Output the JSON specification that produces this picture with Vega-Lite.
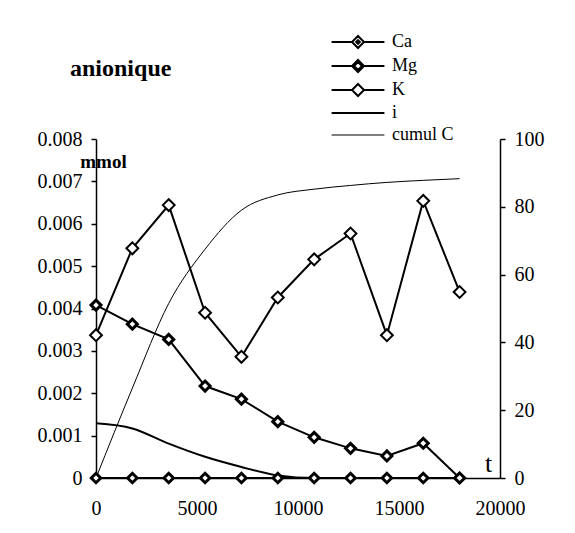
{
  "$schema": "https://vega.github.io/schema/vega-lite/v6.json",
  "width": 404,
  "height": 339,
  "autosize": {"type": "none"},
  "padding": {"left": 96, "top": 139, "right": 75, "bottom": 55},
  "background": "white",
  "title": {
    "text": "anionique",
    "anchor": "start",
    "frame": "group",
    "dx": -26,
    "offset": 0,
    "dy": 67,
    "baseline": "alphabetic",
    "font": "Liberation Serif",
    "fontSize": 24,
    "fontWeight": "bold",
    "color": "black"
  },
  "config": {
    "view": {"stroke": null},
    "axis": {
      "grid": false,
      "labelFlush": false,
      "labelFont": "Liberation Serif",
      "labelFontSize": 20,
      "labelColor": "black",
      "titleFont": "Liberation Serif",
      "titleColor": "black",
      "domainColor": "black",
      "domainWidth": 1.5,
      "tickColor": "black",
      "tickWidth": 1.5
    }
  },
  "datasets": {
    "ions": [
      {"t": 0, "series": "Ca", "v": 0},
      {"t": 1800, "series": "Ca", "v": 0},
      {"t": 3600, "series": "Ca", "v": 0},
      {"t": 5400, "series": "Ca", "v": 0},
      {"t": 7200, "series": "Ca", "v": 0},
      {"t": 9000, "series": "Ca", "v": 0},
      {"t": 10800, "series": "Ca", "v": 0},
      {"t": 12600, "series": "Ca", "v": 0},
      {"t": 14400, "series": "Ca", "v": 0},
      {"t": 16200, "series": "Ca", "v": 0},
      {"t": 18000, "series": "Ca", "v": 0},
      {"t": 0, "series": "Mg", "v": 0.00408},
      {"t": 1800, "series": "Mg", "v": 0.00363},
      {"t": 3600, "series": "Mg", "v": 0.00327},
      {"t": 5400, "series": "Mg", "v": 0.00217},
      {"t": 7200, "series": "Mg", "v": 0.00186},
      {"t": 9000, "series": "Mg", "v": 0.00133},
      {"t": 10800, "series": "Mg", "v": 0.00096},
      {"t": 12600, "series": "Mg", "v": 0.0007},
      {"t": 14400, "series": "Mg", "v": 0.00052},
      {"t": 16200, "series": "Mg", "v": 0.00082},
      {"t": 18000, "series": "Mg", "v": 0},
      {"t": 0, "series": "K", "v": 0.00337},
      {"t": 1800, "series": "K", "v": 0.00542},
      {"t": 3600, "series": "K", "v": 0.00644},
      {"t": 5400, "series": "K", "v": 0.0039},
      {"t": 7200, "series": "K", "v": 0.00286},
      {"t": 9000, "series": "K", "v": 0.00426},
      {"t": 10800, "series": "K", "v": 0.00516},
      {"t": 12600, "series": "K", "v": 0.00577},
      {"t": 14400, "series": "K", "v": 0.00337},
      {"t": 16200, "series": "K", "v": 0.00654},
      {"t": 18000, "series": "K", "v": 0.00439}
    ],
    "i": [
      {"t": 0, "v": 0.00129},
      {"t": 1800, "v": 0.00117},
      {"t": 3600, "v": 0.00081},
      {"t": 5400, "v": 0.0005},
      {"t": 7200, "v": 0.00026},
      {"t": 9000, "v": 0.00006},
      {"t": 10800, "v": 0},
      {"t": 12600, "v": 0},
      {"t": 14400, "v": 0},
      {"t": 16200, "v": 0},
      {"t": 18000, "v": 0}
    ],
    "cumul": [
      {"t": 0, "c": 0},
      {"t": 1800, "c": 26.5},
      {"t": 3600, "c": 51.5},
      {"t": 5400, "c": 67.5},
      {"t": 7200, "c": 79},
      {"t": 9000, "c": 83.5},
      {"t": 10800, "c": 85.2},
      {"t": 12600, "c": 86.3},
      {"t": 14400, "c": 87.2},
      {"t": 16200, "c": 87.8},
      {"t": 18000, "c": 88.3}
    ]
  },
  "encoding": {
    "x": {
      "field": "t",
      "type": "quantitative",
      "scale": {"domain": [0, 20000], "nice": false, "zero": true},
      "axis": {
        "values": [0, 5000, 10000, 15000, 20000],
        "format": "d",
        "ticks": false,
        "tickSize": 0,
        "labelPadding": 20,
        "title": "t",
        "titleAngle": 0,
        "titleX": 392,
        "titleY": -7,
        "titleAlign": "center",
        "titleBaseline": "alphabetic",
        "titleFontSize": 26,
        "titleFontWeight": "normal"
      }
    }
  },
  "layer": [
    {
      "data": {"name": "cumul"},
      "mark": {"type": "line", "interpolate": "monotone", "color": "black", "strokeWidth": 1},
      "encoding": {
        "y": {
          "field": "c",
          "type": "quantitative",
          "scale": {"domain": [0, 100], "nice": false},
          "axis": {
            "orient": "right",
            "values": [0, 20, 40, 60, 80, 100],
            "tickSize": 5,
            "labelPadding": 9,
            "title": null
          }
        }
      }
    },
    {
      "encoding": {
        "y": {
          "field": "v",
          "type": "quantitative",
          "scale": {"domain": [0, 0.008], "nice": false},
          "axis": {
            "orient": "left",
            "values": [0, 0.001, 0.002, 0.003, 0.004, 0.005, 0.006, 0.007, 0.008],
            "labelExpr": "datum.value == 0 ? '0' : format(datum.value, '.3f')",
            "tickSize": 5,
            "labelPadding": 9,
            "title": "mmol",
            "titleAngle": 0,
            "titleX": 7,
            "titleY": 28,
            "titleAlign": "center",
            "titleBaseline": "alphabetic",
            "titleFontSize": 19,
            "titleFontWeight": "bold"
          }
        }
      },
      "layer": [
        {
          "data": {"name": "i"},
          "mark": {"type": "line", "interpolate": "monotone", "color": "black", "strokeWidth": 2}
        },
        {
          "data": {"name": "ions"},
          "mark": {"type": "line", "color": "black", "strokeWidth": 2},
          "encoding": {"detail": {"field": "series", "type": "nominal"}}
        },
        {
          "data": {"name": "ions"},
          "transform": [{"filter": {"field": "series", "equal": "Ca"}}],
          "mark": {"type": "point", "shape": "diamond", "filled": true, "fill": "white", "stroke": "black", "strokeWidth": 3, "size": 90, "opacity": 1}
        },
        {
          "data": {"name": "ions"},
          "transform": [{"filter": {"field": "series", "equal": "Mg"}}],
          "mark": {"type": "point", "shape": "diamond", "filled": true, "fill": "white", "stroke": "black", "strokeWidth": 3, "size": 100, "opacity": 1}
        },
        {
          "data": {"name": "ions"},
          "transform": [{"filter": {"field": "series", "equal": "K"}}],
          "mark": {"type": "point", "shape": "diamond", "filled": true, "fill": "white", "stroke": "black", "strokeWidth": 2, "size": 140, "opacity": 1}
        },
        {
          "data": {"name": "ions"},
          "mark": {"type": "point", "filled": false, "stroke": "black", "strokeOpacity": 0, "opacity": 1},
          "encoding": {
            "shape": {
              "field": "series",
              "type": "nominal",
              "scale": {
                "domain": ["Ca", "Mg", "K", "i", "cumul C"],
                "range": [
                  "M-2.2,0H-0.5M0.5,0H2.2M0,-0.5L0.5,0L0,0.5L-0.5,0ZM0,-0.15L0.15,0L0,0.15L-0.15,0Z",
                  "M-2.2,0H-0.5M0.5,0H2.2M0,-0.5L0.5,0L0,0.5L-0.5,0ZM0,-0.33L0.33,0L0,0.33L-0.33,0Z",
                  "M-2.2,0H-0.5M0.5,0H2.2M0,-0.5L0.5,0L0,0.5L-0.5,0Z",
                  "M-2.2,0H2.2",
                  "M-2.2,0H2.2"
                ]
              },
              "legend": {
                "orient": "none",
                "legendX": 253,
                "legendY": -106,
                "title": null,
                "symbolSize": 576,
                "symbolOpacity": 1,
                "symbolStrokeColor": "black",
                "symbolStrokeWidth": {"expr": "datum.value === 'cumul C' ? 1 : 2"},
                "labelFont": "Liberation Serif",
                "labelFontSize": 18,
                "labelColor": "black",
                "labelOffset": 25,
                "rowPadding": 4
              }
            }
          }
        }
      ]
    }
  ],
  "resolve": {"scale": {"y": "independent"}}
}
